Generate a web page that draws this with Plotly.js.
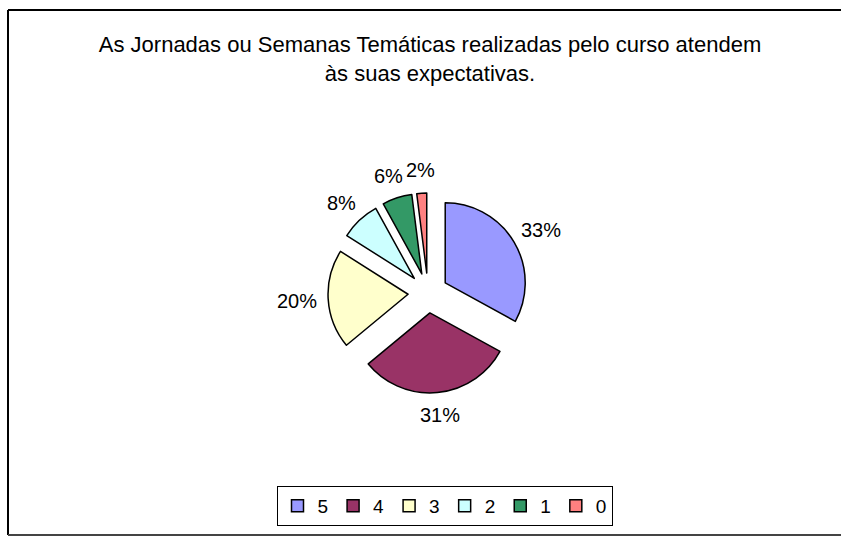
<!DOCTYPE html>
<html>
<head>
<meta charset="utf-8">
<script src="https://cdn.plot.ly/plotly-3.0.1.min.js"></script>
<style>html,body{margin:0;padding:0;background:#fff;}#chart{width:841px;height:536px;}</style>
</head>
<body>
<div id="chart"></div>
<script>
const categories = ["5", "4", "3", "2", "1", "0"];
const values = [33, 31, 20, 8, 6, 2];
const colors = ["#9999FF", "#993366", "#FFFFCC", "#CCFFFF", "#339966", "#FF8080"];
const titleText = "As Jornadas ou Semanas Temáticas realizadas pelo curso atendem<br>às suas expectativas.";

const W = 841, H = 536;
const FONT = "Liberation Sans, Arial, sans-serif";
const cx = 428, cy = 293, box = 200;
const PULL = 0.25;
const LABEL_FS = 20;
const LABEL_R = 115;

const trace = {
  type: "pie",
  labels: categories,
  values: values,
  sort: false,
  direction: "clockwise",
  rotation: 0,
  pull: categories.map(() => PULL),
  marker: {colors: colors, line: {color: "#000", width: 1.5}},
  textinfo: "none",
  domain: {x: [(cx - box / 2) / W, (cx + box / 2) / W], y: [1 - (cy + box / 2) / H, 1 - (cy - box / 2) / H]},
  hoverinfo: "label+percent"
};

// percentage labels placed outside each slice, along the slice bisector (derived from the values)
const total = values.reduce((a, b) => a + b, 0);
let cum = 0;
const annotations = values.map((v) => {
  const mid = (cum + v / 2) / total * 2 * Math.PI;
  cum += v;
  const txt = Math.round(v / total * 100) + "%";
  const s = Math.sin(mid), c = Math.cos(mid);
  const w = ((txt.length - 1) * 0.556 + 0.889) * LABEL_FS;
  const h = 16;
  const px = cx + LABEL_R * s + (w / 2) * s * 0.8;
  const py = cy - LABEL_R * c - (h / 2) * c;
  return {
    text: txt, showarrow: false, xref: "paper", yref: "paper",
    x: px / W, y: 1 - py / H, xanchor: "center", yanchor: "middle",
    font: {family: FONT, size: LABEL_FS, color: "#000"}
  };
});

const layout = {
  width: W, height: H,
  margin: {l: 0, r: 0, t: 0, b: 0},
  paper_bgcolor: "#fff",
  font: {family: FONT, size: 19, color: "#000"},
  title: {text: titleText, x: 430 / W, xanchor: "center", y: 1 - 52 / H, yanchor: "top", font: {family: FONT, size: 22, color: "#000"}},
  showlegend: true,
  legend: {orientation: "h", x: 444.5 / W, xanchor: "center", y: 1 - 486 / H, yanchor: "top",
    bordercolor: "#000", borderwidth: 1, font: {family: FONT, size: 19, color: "#000"}, traceorder: "normal",
    itemwidth: 30},
  annotations: annotations,
  shapes: [
    {type: "line", xref: "paper", yref: "paper", x0: 8 / W, x1: 1, y0: 1 - 10 / H, y1: 1 - 10 / H, line: {color: "#000", width: 2}},
    {type: "line", xref: "paper", yref: "paper", x0: 8 / W, x1: 8 / W, y0: 1 - 10 / H, y1: 1 - 535 / H, line: {color: "#000", width: 2}},
    {type: "line", xref: "paper", yref: "paper", x0: 8 / W, x1: 1, y0: 1 - 535 / H, y1: 1 - 535 / H, line: {color: "#444", width: 2}}
  ]
};

Plotly.newPlot("chart", [trace], layout, {displayModeBar: false, staticPlot: true});
</script>
</body>
</html>
